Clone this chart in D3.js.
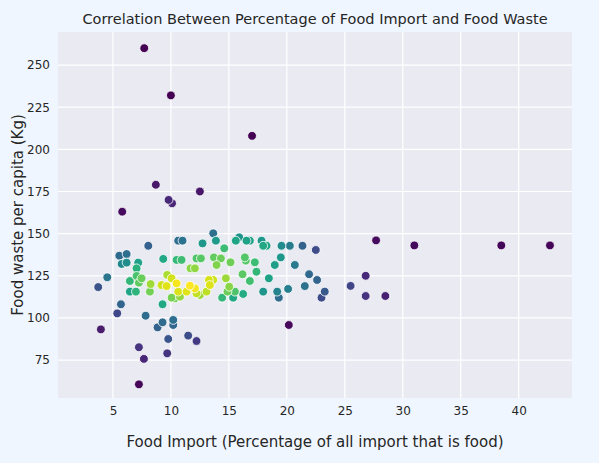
<!DOCTYPE html>
<html><head><meta charset="utf-8">
<script src="https://cdn.jsdelivr.net/npm/d3@7"></script>
<style>body{margin:0;background:#f0f6ff;font-family:"DejaVu Sans",sans-serif}</style>
</head><body><svg id="c" width="599" height="463"></svg>
<script>
const foodImport=[13.65,10.63,11.0,13.88,12.73,15.6,15.89,16.52,16.81,17.82,17.96,18.25,19.54,20.26,21.35,22.5,8.05,14.6,5.55,6.18,5.75,6.18,7.18,7.04,9.34,10.49,10.92,12.21,12.59,13.71,14.31,13.94,15.14,16.38,16.46,17.24,19.48,18.96,20.69,11.69,12.07,7.04,4.51,3.73,6.46,7.47,7.24,8.25,8.19,6.46,6.98,9.19,9.68,9.63,10.06,10.49,10.63,11.35,11.64,12.07,12.21,12.5,13.07,13.28,13.65,13.36,14.74,15.03,14.88,15.52,16.18,16.81,17.38,18.45,16.23,14.42,15.37,17.96,19.17,19.31,20.11,21.55,21.92,22.61,23.27,22.99,10.06,10.34,10.78,9.28,5.69,5.37,7.82,10.2,10.2,9.28,8.85,3.96,20.17,9.77,11.49,12.21,7.24,9.68,7.67,7.24,7.7,10,17,8.7,12.5,9.8,10.1,5.8,25.5,26.8,26.8,28.5,27.7,31,38.5,42.7];
const foodWaste=[150.2,145.8,145.8,145.8,144.2,145.8,147.8,145.8,145.8,145.8,142.8,142.8,142.8,142.8,142.8,140.3,142.8,141.3,136.9,137.9,132.0,132.8,132.8,129.4,135.0,134.4,134.4,135.3,135.3,135.9,135.3,131.4,133.0,135.9,134.0,133.0,135.9,131.4,131.4,129.4,129.4,124.9,124.1,118.3,121.9,123.5,120.9,120.1,115.6,115.6,115.6,119.5,125.5,118.9,123.5,120.5,115.6,115.6,119.1,117.5,114.6,113.6,115.6,122.5,122.5,119.5,123.5,118.5,115.6,115.6,125.9,121.9,127.4,123.5,114.2,112.0,112.0,115.6,115.6,112.0,117.2,118.9,125.9,122.5,115.6,112.0,112.0,111.6,112.6,108.1,108.1,102.7,101.3,98.8,95.8,97.4,94.4,93.2,95.8,87.5,89.5,86.3,82.6,79.0,75.7,60.6,260,232,208,179,175,170,168,163,119,125,113,113,146,143,143,143];
const xTicks=[5,10,15,20,25,30,35,40];
const yTicks=[75,100,125,150,175,200,225,250];

const svg=d3.select("#c");
const L=58,R=572,T=32,B=398;
const x=d3.scaleLinear().domain([0.26,44.6]).range([L,R]);
const y=d3.scaleLinear().domain([52.5,269.6]).range([B,T]);
svg.append("rect").attr("x",L).attr("y",T).attr("width",R-L).attr("height",B-T).attr("fill","#eaeaf2");
const g=svg.append("g");
g.selectAll(".vx").data(xTicks).join("line").attr("x1",d=>x(d)).attr("x2",d=>x(d)).attr("y1",T).attr("y2",B).attr("stroke","#fff").attr("stroke-width",1.2);
g.selectAll(".hy").data(yTicks).join("line").attr("y1",d=>y(d)).attr("y2",d=>y(d)).attr("x1",L).attr("x2",R).attr("stroke","#fff").attr("stroke-width",1.2);
const xa=svg.append("g").attr("transform",`translate(0,${B})`).call(d3.axisBottom(x).tickValues(xTicks).tickSize(0).tickPadding(8));
const ya=svg.append("g").attr("transform",`translate(${L},0)`).call(d3.axisLeft(y).tickValues(yTicks).tickSize(0).tickPadding(8));
[xa,ya].forEach(a=>{a.select(".domain").remove();a.selectAll("text").attr("font-size",12).attr("fill","#262626").attr("font-family","DejaVu Sans");});
const pts=foodImport.map((v,i)=>({x:v,y:foodWaste[i]}));
const bx=2.5,by=8;
pts.forEach(p=>{p.d=d3.sum(pts,q=>{const a=(p.x-q.x)/bx,b=(p.y-q.y)/by;return Math.exp(-(a*a+b*b)/2);});});
const c=d3.scaleSequential(d3.interpolateViridis).domain(d3.extent(pts,p=>p.d));
svg.append("g").selectAll("circle").data(pts.sort((a,b)=>a.d-b.d)).join("circle")
 .attr("cx",d=>x(d.x)).attr("cy",d=>y(d.y)).attr("r",4.4).attr("fill",d=>c(d.d)).attr("stroke","#fff").attr("stroke-width",0.8);
svg.append("text").attr("x",(L+R)/2).attr("y",24).attr("text-anchor","middle").attr("font-size",14.5).attr("fill","#262626").text("Correlation Between Percentage of Food Import and Food Waste");
svg.append("text").attr("x",(L+R)/2).attr("y",447).attr("text-anchor","middle").attr("font-size",15).attr("fill","#262626").text("Food Import (Percentage of all import that is food)");
svg.append("text").attr("transform",`translate(23,${(T+B)/2}) rotate(-90)`).attr("text-anchor","middle").attr("font-size",15).attr("fill","#262626").text("Food waste per capita (Kg)");
</script></body></html>
